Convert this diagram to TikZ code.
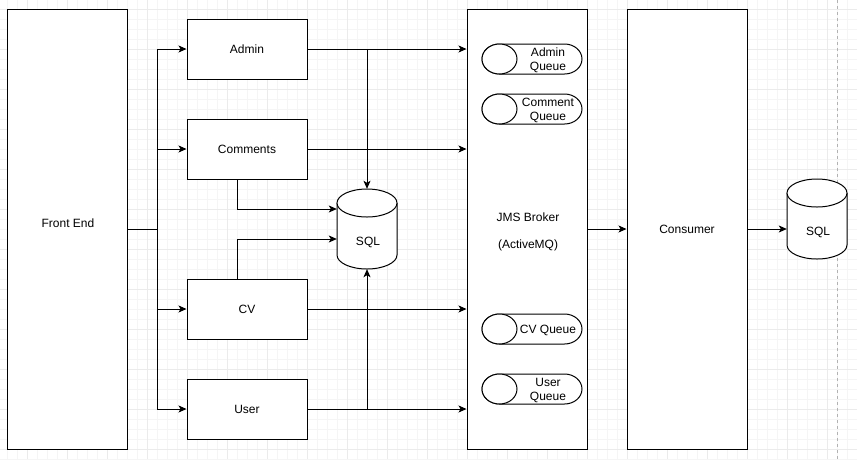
\documentclass[tikz,border=0pt]{standalone}
\usepackage{fontspec}
\setmainfont{Liberation Sans}
\usetikzlibrary{arrows.meta}

\begin{document}
\begin{tikzpicture}[x=1pt,y=-1pt,
    box/.style={draw,line width=1pt,fill=white,minimum width=120pt,minimum height=60pt,inner sep=0pt},
    tall/.style={box,minimum height=440pt},
    spot/.style={minimum width=#1,minimum height=30pt,inner sep=0pt},
    txt/.style={inner sep=0pt,font=\fontsize{12}{14}\selectfont},
    arr/.style={line width=1pt,-{Stealth[length=8pt,width=7pt,inset=2pt]}},
    every node/.append style={font=\fontsize{12}{14}\selectfont}]
     \useasboundingbox (0,0) rectangle (857,459);
     % grid
     \foreach \x in {7,17,...,857} \draw[black!4,line width=0.8pt] (\x,0) -- (\x,459);
     \foreach \y in {9,19,...,459} \draw[black!4,line width=0.8pt] (0,\y) -- (857,\y);
     \foreach \x in {27,67,...,857} \draw[black!8,line width=0.8pt] (\x,0) -- (\x,459);
     \foreach \y in {9,49,...,459} \draw[black!8,line width=0.8pt] (0,\y) -- (857,\y);
     \draw[black!30,dashed,line width=0.8pt] (837,0) -- (837,459);

     % boxes
     \node[tall] (fe) at (67,229) {};
     \node[txt] at (68,223) {Front End};
     \node[box] (admin) at (247,49) {\raisebox{-1pt}{Admin}};
     \node[box] (comments) at (247,149) {\raisebox{-1pt}{Comments}};
     \node[box] (cv) at (247,309) {\raisebox{-1pt}{CV}};
     \node[box] (user) at (247,409) {\raisebox{-1pt}{User}};
     \node[tall] (broker) at (527,229) {};
     \node[txt] at (528,217) {JMS Broker};
     \node[txt] at (528,245) {(ActiveMQ)};
     \node[tall] (consumer) at (687,229) {\raisebox{-1pt}{Consumer}};

     % databases
     \node[minimum width=60pt,minimum height=80pt,inner sep=0pt] (sql) at (367,229) {};
     \node[minimum width=60pt,minimum height=80pt,inner sep=0pt] (sqltwo) at (817,219) {};
     \foreach \c/\cx/\cy in {sql/367/229,sqltwo/817/219} {
       \draw[line width=1pt,fill=white] (\cx-30,\cy-26) -- (\cx-30,\cy+26)
         arc (180:0:30 and 14) -- (\cx+30,\cy-26);
       \draw[line width=1pt,fill=white] (\cx,\cy-26) ellipse (30 and 14);
       \node[txt] at (\cx+1,\cy+13) {SQL};
     }

     % queues
     \foreach \q/\qy/\qt in {qadmin/59/{Admin\\Queue},qcomment/109/{Comment\\Queue},qcv/329/{CV Queue},quser/389/{User\\Queue}} {
       \node[spot=100pt] (\q) at (532,\qy) {};
       \draw[line width=1pt,fill=white] (499.5,\qy-15) -- (564.5,\qy-15)
         arc (-90:90:17.5 and 15) -- (499.5,\qy+15) arc (90:270:17.5 and 15) -- cycle;
       \draw[line width=1pt,fill=white] (499.5,\qy) ellipse (17.5 and 15);
       \node[txt,align=center] at (548,\qy+1) {\qt};
     }

     % front end to services
     \foreach \b in {admin,comments,cv,user}
       \draw[arr] (fe.east) -- ++(30,0) |- (\b.west);

     % services to broker
     \foreach \b in {admin,comments,cv,user}
       \draw[arr] (\b.east) -- (\b.east -| broker.west);

     % services to sql
     \draw[arr] (admin.east) -| (sql.north);
     \draw[arr] (user.east) -| (sql.south);
     \draw[arr] ([xshift=-10pt]comments.south) |- ([yshift=20pt]sql.west);
     \draw[arr] ([xshift=-10pt]cv.north) |- ([yshift=-10pt]sql.west);

     % broker to consumer to sql
     \draw[arr] (broker.east) -- (consumer.west);
     \draw[arr] (consumer.east) -- (consumer.east -| sqltwo.west);
    \end{tikzpicture}
\end{document}
